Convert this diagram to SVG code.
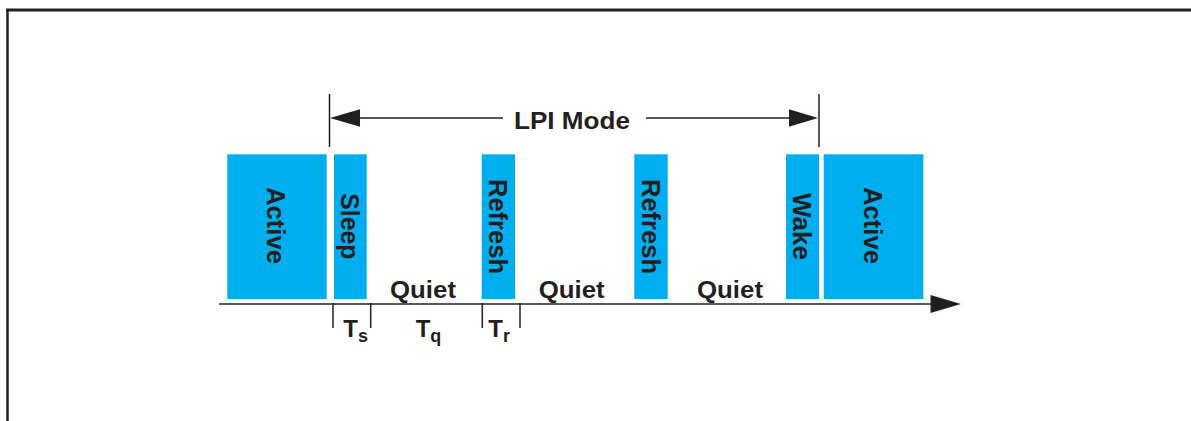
<svg xmlns="http://www.w3.org/2000/svg" width="1191" height="421" viewBox="0 0 1191 421">
  <style>
    .blk { fill: #00AEEF; }
    .lbl { font-family: "Liberation Sans", Arial, sans-serif; font-weight: bold; fill: #231F20; }
    .rot { font-size: 25px; text-anchor: middle; }
    .ln { stroke: #231F20; stroke-width: 1.5; fill: none; }
    .ah { fill: #231F20; }
  </style>
  <rect width="1191" height="421" fill="#ffffff"/>
  <!-- frame -->
  <g id="frame">
    <line x1="6" y1="10" x2="1191" y2="10" stroke="#231F20" stroke-width="3"/>
    <line x1="7.5" y1="9" x2="7.5" y2="421" stroke="#231F20" stroke-width="2.5"/>
  </g>
  <!-- connectors -->
  <g id="connectors">
    <line class="ln" x1="329.5" y1="94" x2="329.5" y2="147"/>
    <line class="ln" x1="819" y1="94" x2="819" y2="147"/>
    <line class="ln" x1="358" y1="118" x2="503" y2="118"/>
    <polygon class="ah" points="330,118 360,109.3 360,126.7"/>
    <line class="ln" x1="646" y1="118" x2="791" y2="118"/>
    <polygon class="ah" points="818,118 789,109.3 789,126.7"/>
    <line class="ln" x1="219" y1="304" x2="933" y2="304"/>
    <polygon class="ah" points="961,304 930.5,295 930.5,313"/>
    <line class="ln" x1="333" y1="303" x2="333" y2="328"/>
    <line class="ln" x1="370.7" y1="303" x2="370.7" y2="328"/>
    <line class="ln" x1="482.3" y1="303" x2="482.3" y2="328"/>
    <line class="ln" x1="520" y1="303" x2="520" y2="328"/>
  </g>
  <g id="lpi-label">
    <text class="lbl" x="572" y="129.3" font-size="24.5" text-anchor="middle" textLength="116" lengthAdjust="spacingAndGlyphs">LPI Mode</text>
  </g>
  <!-- blocks -->
  <g id="active1">
    <rect class="blk" x="227.3" y="154.3" width="99.4" height="144.7"/>
    <text class="lbl rot" transform="translate(275.5,225.5) rotate(90)" x="0" y="9" textLength="77" lengthAdjust="spacingAndGlyphs">Active</text>
  </g>
  <g id="sleep">
    <rect class="blk" x="334" y="154.3" width="32.7" height="144.7"/>
    <text class="lbl rot" transform="translate(349.5,226.3) rotate(90)" x="0" y="9" textLength="66" lengthAdjust="spacingAndGlyphs">Sleep</text>
  </g>
  <g id="refresh1">
    <rect class="blk" x="481.7" y="154.3" width="33.3" height="144.7"/>
    <text class="lbl rot" transform="translate(497.8,226.5) rotate(90)" x="0" y="9" textLength="95" lengthAdjust="spacingAndGlyphs">Refresh</text>
  </g>
  <g id="refresh2">
    <rect class="blk" x="634.3" y="154.3" width="33.4" height="144.7"/>
    <text class="lbl rot" transform="translate(650.5,226.5) rotate(90)" x="0" y="9" textLength="95" lengthAdjust="spacingAndGlyphs">Refresh</text>
  </g>
  <g id="wake">
    <rect class="blk" x="786" y="154.3" width="33" height="144.7"/>
    <text class="lbl rot" transform="translate(801.5,226.5) rotate(90)" x="0" y="9" textLength="67" lengthAdjust="spacingAndGlyphs">Wake</text>
  </g>
  <g id="active2">
    <rect class="blk" x="823.7" y="154.3" width="99.6" height="144.7"/>
    <text class="lbl rot" transform="translate(872.5,225.5) rotate(90)" x="0" y="9" textLength="77" lengthAdjust="spacingAndGlyphs">Active</text>
  </g>
  <!-- quiet labels -->
  <g id="quiet1"><text class="lbl" x="423" y="298" font-size="24" text-anchor="middle" textLength="66" lengthAdjust="spacingAndGlyphs">Quiet</text></g>
  <g id="quiet2"><text class="lbl" x="571.7" y="298" font-size="24" text-anchor="middle" textLength="66" lengthAdjust="spacingAndGlyphs">Quiet</text></g>
  <g id="quiet3"><text class="lbl" x="730" y="298" font-size="24" text-anchor="middle" textLength="66" lengthAdjust="spacingAndGlyphs">Quiet</text></g>
  <!-- timing labels -->
  <g id="ts"><text class="lbl" x="343.3" y="336.7" font-size="24">T<tspan font-size="18" dy="5">s</tspan></text></g>
  <g id="tq"><text class="lbl" x="415.7" y="336.7" font-size="24">T<tspan font-size="18" dy="5">q</tspan></text></g>
  <g id="tr"><text class="lbl" x="488.3" y="336.7" font-size="24">T<tspan font-size="18" dy="5">r</tspan></text></g>
</svg>
